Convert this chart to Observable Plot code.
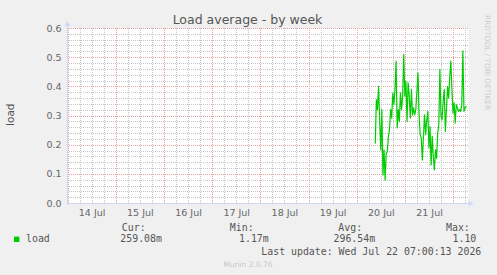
<!DOCTYPE html>
<html><head><meta charset="utf-8">
<script src="https://cdn.jsdelivr.net/npm/d3@7"></script>
<script src="https://cdn.jsdelivr.net/npm/@observablehq/plot@0.6"></script>
<style>
html,body{margin:0;padding:0;background:#F0F0F0;}
#chart svg{display:block;}
</style></head><body><div id="chart"></div>
<script>
// ---- data ----
const titleText = "Load average - by week";
const yLabel = "load";
const seriesName = "load";
const loadValues = [
  0.207,0.356,0.322,0.402,0.287,0.184,0.322,0.098,0.184,0.080,
  0.172,0.178,0.230,0.253,0.322,0.293,0.379,0.339,0.391,0.488,
  0.259,0.322,0.281,0.379,0.322,0.368,0.511,0.368,0.419,0.281,
  0.414,0.368,0.293,0.391,0.304,0.328,0.304,0.322,0.385,0.448,
  0.304,0.236,0.224,0.149,0.230,0.304,0.236,0.287,0.316,0.190,
  0.264,0.132,0.230,0.161,0.115,0.184,0.155,0.241,0.270,0.460,
  0.299,0.287,0.350,0.391,0.247,0.322,0.402,0.362,0.431,0.488,
  0.391,0.310,0.345,0.276,0.339,0.328,0.316,0.322,0.316,0.339,
  0.523,0.316,0.328,0.333
];
const seriesStart = "2026-07-20T09:00:00Z";
const seriesEnd = "2026-07-22T06:15:00Z";
const xStart = "2026-07-13T23:45:00Z";
const xEnd = "2026-07-22T07:25:00Z";
const dayLabels = ["14 Jul","15 Jul","16 Jul","17 Jul","18 Jul","19 Jul","20 Jul","21 Jul"];
const dayLabelDates = ["2026-07-14T12:00:00Z","2026-07-15T12:00:00Z","2026-07-16T12:00:00Z","2026-07-17T12:00:00Z","2026-07-18T12:00:00Z","2026-07-19T12:00:00Z","2026-07-20T12:00:00Z","2026-07-21T12:00:00Z"];
const yTicks = [0, 0.1, 0.2, 0.3, 0.4, 0.5, 0.6];
const yMinorTicks = [0.02,0.04,0.06,0.08,0.12,0.14,0.16,0.18,0.22,0.24,0.26,0.28,0.32,0.34,0.36,0.38,0.42,0.44,0.46,0.48,0.52,0.54,0.56,0.58];
const statLabels = ["Cur:", "Min:", "Avg:", "Max:"];
const statValues = ["259.08m", "1.17m", "296.54m", "1.10"];
const lastUpdate = "Last update: Wed Jul 22 07:00:13 2026";
const footerText = "Munin 2.0.76";
const sideText = "RRDTOOL / TOBI OETIKER";

// ---- layout ----
const W = 497, H = 275, mL = 67, mR = 29, mT = 28, mB = 72;

// ---- build ----
const t0 = new Date(seriesStart), t1 = new Date(seriesEnd);
const n = loadValues.length;
const data = loadValues.map((v, i) => ({t: new Date(+t0 + (t1 - t0) * i / (n - 1)), v}));
const xDomain = [new Date(xStart), new Date(xEnd)];
const labelDates = dayLabelDates.map(d => new Date(d));
const labelMap = new Map(labelDates.map((d, i) => [+d, dayLabels[i]]));

// snap grid positions to whole pixels so dotted lines stay crisp
const xs = d3.scaleUtc(xDomain, [mL, W - mR]);
const ys = d3.scaleLinear([0, 0.6], [H - mB, mT]);
const snapX = d => xs.invert(Math.round(xs(d)));
const snapY = v => ys.invert(Math.round(ys(v)));
const minorX = d3.utcHour.every(6).range(xDomain[0], xDomain[1]).filter(d => d.getUTCHours() !== 0).map(snapX);
const majorX = d3.utcDay.range(xDomain[0], xDomain[1]).map(snapX);
const minorY = yMinorTicks.map(snapY);
const majorY = yTicks.map(snapY);

const gridMinor = {stroke: "#C4C4C4", strokeDasharray: "1,1"};
const gridMajor = {stroke: "#E9A0A0", strokeDasharray: "1,1"};

const plot = Plot.plot({
  width: W, height: H,
  marginLeft: mL, marginRight: mR, marginTop: mT, marginBottom: mB,
  style: {background: "#F0F0F0", fontFamily: "DejaVu Sans", fontSize: "9.5px", color: "#666"},
  x: {type: "utc", domain: xDomain},
  y: {domain: [0, 0.6]},
  marks: [
    Plot.frame({fill: "white", stroke: null}),
    Plot.ruleX(minorX, gridMinor),
    Plot.ruleY(minorY, gridMinor),
    Plot.ruleX(majorX, gridMajor),
    Plot.ruleY(majorY, gridMajor),
    Plot.axisY({ticks: yTicks, tickFormat: d => d.toFixed(1), tickSize: 0, tickPadding: 6, label: null}),
    Plot.axisX({ticks: labelDates, tickFormat: d => labelMap.get(+d), tickSize: 0, tickPadding: 6, label: null}),
    Plot.line(data, {x: "t", y: "v", stroke: "#00CC00", strokeWidth: 1.2})
  ]
});

const svg = d3.select(plot);
const sx = plot.scale("x"), sy = plot.scale("y");
const ax0 = Math.round(sx.apply(xDomain[0])) + 0.5, ax1 = sx.apply(xDomain[1]);
const ay0 = Math.round(sy.apply(0)) + 0.5, ay1 = sy.apply(0.6);
const axisColor = "#CFD6F8";
// axes with arrows
svg.append("line").attr("x1", ax0).attr("x2", ax1 + 1).attr("y1", ay0).attr("y2", ay0).attr("stroke", axisColor);
svg.append("line").attr("x1", ax0).attr("x2", ax0).attr("y1", ay0 + 2).attr("y2", ay1 - 2).attr("stroke", axisColor);
svg.append("path").attr("d", `M${ax1 + 5.5},${ay0} L${ax1 + 0.5},${ay0 - 2.8} L${ax1 + 0.5},${ay0 + 2.8} Z`).attr("fill", axisColor);
svg.append("path").attr("d", `M${ax0},${ay1 - 7} L${ax0 - 2.8},${ay1 - 2} L${ax0 + 2.8},${ay1 - 2} Z`).attr("fill", axisColor);

const txt = (x, y, s, o = {}) => svg.append("text").attr("x", x).attr("y", y).text(s)
  .attr("font-family", o.family || "DejaVu Sans Mono")
  .attr("font-size", o.size || "9.9px")
  .attr("fill", o.fill || "#555")
  .attr("text-anchor", o.anchor || "start");

txt(247.5, 23.5, titleText, {family: "DejaVu Sans", size: "12.5px", anchor: "middle", fill: "#555"});
svg.append("text").attr("transform", "translate(14,114.7) rotate(-90)").attr("text-anchor", "middle")
  .attr("font-family", "DejaVu Sans").attr("font-size", "10.5px").attr("fill", "#555").text(yLabel);
svg.append("text").attr("transform", "translate(484.5,15) rotate(90)").attr("text-anchor", "start")
  .attr("font-family", "DejaVu Sans").attr("font-size", "7.4px").attr("fill", "#ccc").text(sideText);

// legend
svg.append("rect").attr("x", 14).attr("y", 236.6).attr("width", 5.4).attr("height", 5.4).attr("fill", "#00CC00");
txt(26, 242.3, seriesName);
const labelX = [121.8, 229.8, 338.3, 446.0];
const valueX = [120.3, 239.0, 333.5, 452.5];
statLabels.forEach((s, i) => txt(labelX[i], 231, s));
statValues.forEach((s, i) => txt(valueX[i], 242.3, s));
txt(261.3, 255, lastUpdate);
txt(248, 266.5, footerText, {family: "DejaVu Sans", size: "7.5px", anchor: "middle", fill: "#c8c8c8"});

document.getElementById("chart").append(plot);
</script></body></html>
